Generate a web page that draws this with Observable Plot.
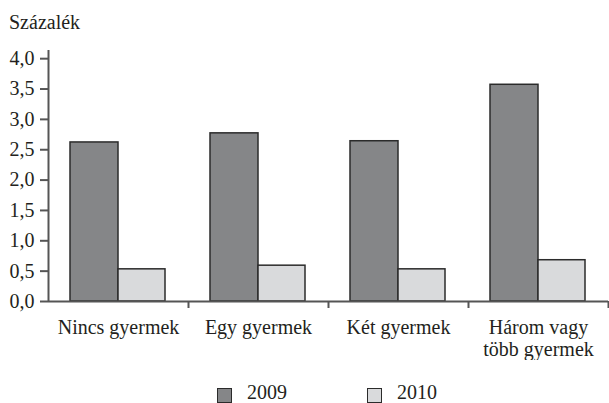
<!DOCTYPE html>
<html><head><meta charset="utf-8">
<script src="https://cdn.jsdelivr.net/npm/d3@7"></script>
<script src="https://cdn.jsdelivr.net/npm/@observablehq/plot@0.6"></script>
<style>
body{margin:0;background:#fff;color:#231f20;}
#wrap{position:relative;width:609px;height:403px;overflow:hidden;}
#title{position:absolute;top:12px;left:9px;font-size:20px;line-height:20px;}
#chart{position:absolute;top:36px;left:0;}
.lg{position:absolute;top:388px;width:13px;height:13px;border:1.5px solid #2b2b2b;}
.lt{position:absolute;top:382px;font-size:20px;line-height:20px;}
</style></head><body>
<div id="wrap">
<div id="title">Százalék</div>
<div id="chart"></div>
</div>
<script>
const categories = ["Nincs gyermek", "Egy gyermek", "Két gyermek", "Három vagy\ntöbb gyermek"];
const years = ["2009", "2010"];
const values2009 = [2.62, 2.77, 2.64, 3.57];
const values2010 = [0.53, 0.59, 0.53, 0.68];
const yTicks = [0, 0.5, 1, 1.5, 2, 2.5, 3, 3.5, 4];
const colors = ["#858688", "#d9dadc"];

const data = categories.flatMap((c, i) => [
  {cat: c, year: years[0], value: values2009[i]},
  {cat: c, year: years[1], value: values2010[i]}
]);
const axisColor = "#555";
const serif = "'Liberation Serif', 'Times New Roman', serif";
const fmt = d => d.toFixed(1).replace(".", ",");

const chart = Plot.plot({
  width: 609, height: 324,
  marginTop: 7, marginBottom: 59, marginLeft: 48, marginRight: 1,
  style: {fontFamily: serif, fontSize: "20px", color: "#231f20", background: "#fff"},
  x: {domain: categories, padding: 0, label: null},
  y: {domain: [0, 4.25], label: null},
  color: {domain: years, range: colors},
  marks: [
    Plot.barY(data.filter(d => d.year === years[0]), {x: "cat", y: "value", fill: "year", stroke: "#2b2b2b", strokeWidth: 1.5, insetLeft: 22, insetRight: 70}),
    Plot.barY(data.filter(d => d.year === years[1]), {x: "cat", y: "value", fill: "year", stroke: "#2b2b2b", strokeWidth: 1.5, insetLeft: 70, insetRight: 23}),
    Plot.ruleY([0], {stroke: axisColor, strokeWidth: 2}),
    Plot.ruleX([categories[0]], {x: d => d, dx: -70, y1: 0, y2: 4.25, insetBottom: -7, stroke: axisColor, strokeWidth: 2}),
    Plot.ruleX(categories, {x: d => d, dx: 70, y1: 0, y2: 0, insetBottom: -7, stroke: axisColor, strokeWidth: 2}),
    Plot.axisY({ticks: yTicks, tickFormat: fmt, tickSize: 8, tickPadding: 6, stroke: axisColor, strokeWidth: 2, fill: "#231f20", fontSize: 20, label: null}),
    Plot.axisX({tickSize: 0, tickPadding: 17, lineHeight: 1.1, fill: "#231f20", fontSize: 20, label: null})
  ]
});
document.getElementById("chart").appendChild(chart);

const wrap = document.getElementById("wrap");
const swatchX = [217, 367];
years.forEach((y, i) => {
  const s = document.createElement("div");
  s.className = "lg"; s.style.left = swatchX[i] + "px"; s.style.background = colors[i];
  wrap.appendChild(s);
  const t = document.createElement("div");
  t.className = "lt"; t.style.left = (swatchX[i] + 30) + "px"; t.textContent = y;
  wrap.appendChild(t);
});
const applySerif = () => document.querySelectorAll("body, div, svg, g, text, tspan").forEach(el => el.style.setProperty("font-family", serif, "important"));
applySerif();
setTimeout(applySerif, 0);
</script>
</body></html>
